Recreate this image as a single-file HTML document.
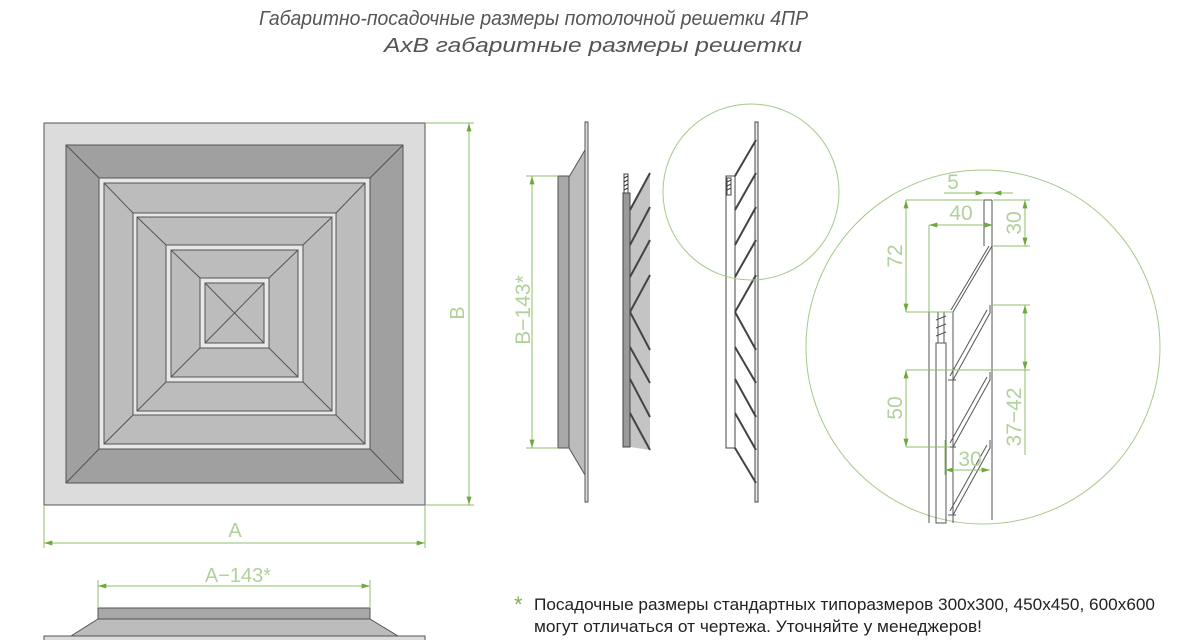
<!DOCTYPE html>
<html><head><meta charset="utf-8"><style>
html,body{margin:0;padding:0;background:#fff;width:1200px;height:640px;overflow:hidden}
svg{display:block}
</style></head><body>
<svg width="1200" height="640" viewBox="0 0 1200 640" xmlns="http://www.w3.org/2000/svg">
<defs>
<marker id="ar" viewBox="0 0 10 6" refX="10" refY="3" markerWidth="10" markerHeight="5" orient="auto-start-reverse" markerUnits="userSpaceOnUse"><path d="M0,0 L10,3 L0,6 z" fill="#6fa83e"/></marker>
</defs>
<g font-family="Liberation Sans, sans-serif" font-style="italic" font-size="20" fill="#555">
<text x="259" y="25" textLength="549" lengthAdjust="spacingAndGlyphs">Габаритно-посадочные размеры потолочной решетки 4ПР</text>
<text x="384" y="52" textLength="418" lengthAdjust="spacingAndGlyphs">AxB габаритные размеры решетки</text>
</g>

<!-- front view -->
<g stroke="#555" stroke-width="1">
<rect x="44" y="123" width="381" height="382" fill="#dcdcdc"/>
<rect x="66" y="145" width="337" height="338" fill="#a0a0a0"/>
<rect x="99" y="178" width="271" height="271" fill="#e8e8e8"/>
<rect x="104" y="183" width="261" height="261" fill="#bcbcbc"/>
<line x1="66" y1="145" x2="99" y2="178"/><line x1="403" y1="145" x2="370" y2="178"/>
<line x1="66" y1="483" x2="99" y2="449"/><line x1="403" y1="483" x2="370" y2="449"/>
<rect x="133" y="213" width="203" height="202" fill="#e8e8e8"/>
<rect x="137" y="217" width="195" height="194" fill="#bcbcbc"/>
<line x1="104" y1="183" x2="133" y2="213"/><line x1="365" y1="183" x2="336" y2="213"/>
<line x1="104" y1="444" x2="133" y2="415"/><line x1="365" y1="444" x2="336" y2="415"/>
<rect x="166" y="245" width="137" height="137" fill="#e8e8e8"/>
<rect x="171" y="250" width="127" height="127" fill="#bcbcbc"/>
<line x1="137" y1="217" x2="166" y2="245"/><line x1="332" y1="217" x2="303" y2="245"/>
<line x1="137" y1="411" x2="166" y2="382"/><line x1="332" y1="411" x2="303" y2="382"/>
<rect x="200" y="278" width="69" height="70" fill="#e8e8e8"/>
<rect x="205" y="283" width="59" height="60" fill="#bcbcbc"/>
<line x1="171" y1="250" x2="200" y2="278"/><line x1="298" y1="250" x2="269" y2="278"/>
<line x1="171" y1="377" x2="200" y2="348"/><line x1="298" y1="377" x2="269" y2="348"/>
<line x1="205" y1="283" x2="264" y2="343"/><line x1="264" y1="283" x2="205" y2="343"/>
</g>
<g stroke="#8fbf6a" stroke-width="1" fill="none">
<line x1="425" y1="123" x2="474" y2="123"/><line x1="425" y1="505" x2="474" y2="505"/>
<line x1="469" y1="123" x2="469" y2="505" marker-start="url(#ar)" marker-end="url(#ar)"/>
<line x1="44" y1="505" x2="44" y2="548"/><line x1="425" y1="505" x2="425" y2="548"/>
<line x1="44" y1="543" x2="425" y2="543" marker-start="url(#ar)" marker-end="url(#ar)"/>
</g>
<g font-family="Liberation Sans, sans-serif" font-size="20" fill="#b2d19a" text-anchor="middle">
<text x="235" y="537">A</text>
<text transform="translate(464,313) rotate(-90)">B</text>
</g>

<!-- bottom view -->
<g stroke="#555" stroke-width="1">
<rect x="98" y="608" width="272" height="11" fill="#a8a8a8"/>
<polygon points="98,619 370,619 398,636 71,636" fill="#bcbcbc"/>
<rect x="44" y="636" width="381" height="5" fill="#dcdcdc"/>
</g>
<g stroke="#8fbf6a" fill="none">
<line x1="98" y1="580" x2="98" y2="608"/><line x1="370" y1="580" x2="370" y2="608"/>
<line x1="98" y1="586" x2="370" y2="586" marker-start="url(#ar)" marker-end="url(#ar)"/>
</g>
<text x="238" y="582" font-family="Liberation Sans, sans-serif" font-size="20" fill="#b2d19a" text-anchor="middle">A−143*</text>

<!-- side view 1 -->
<g stroke="#555" stroke-width="1">
<rect x="585" y="122" width="3" height="380" fill="#ddd"/>
<polygon points="585,150 569,177 569,448 585,475" fill="#bcbcbc"/>
<rect x="558" y="176" width="11" height="272" fill="#a8a8a8"/>
</g>
<g stroke="#8fbf6a" fill="none">
<line x1="526" y1="176" x2="558" y2="176"/><line x1="526" y1="448" x2="558" y2="448"/>
<line x1="532" y1="176" x2="532" y2="448" marker-start="url(#ar)" marker-end="url(#ar)"/>
</g>
<text transform="translate(530,310) rotate(-90)" font-family="Liberation Sans, sans-serif" font-size="21" fill="#b2d19a" text-anchor="middle">B−143*</text>

<!-- side view 2 -->
<g stroke="#444" stroke-width="1">
<polygon points="630,210 650,173 650,450 630,447" fill="#c4c4c4" stroke="none"/>
<rect x="623" y="193" width="7" height="254" fill="#9a9a9a"/>
<rect x="624" y="174" width="4" height="19" fill="#fff"/>
<path d="M624,178 l4,-2 M624,182 l4,-2 M624,186 l4,-2 M624,190 l4,-2" stroke="#333"/>
<g stroke-width="2" fill="none" stroke="#444">
<path d="M630,210 L650,173 M630,245 L650,207 M630,277 L650,240 M630,312 L650,275 M630,312 L650,350 M630,347 L650,383 M630,379 L650,417 M630,413 L650,450"/>
</g>
</g>

<!-- side view 3 -->
<g stroke="#444" stroke-width="1" fill="none">
<rect x="726" y="176" width="9" height="272" fill="#fff"/>
<line x1="735" y1="176" x2="735" y2="448"/>
<rect x="727" y="178" width="4" height="17" fill="#fff"/>
<path d="M727,182 l4,-2 M727,186 l4,-2 M727,190 l4,-2"/>
<rect x="755" y="122" width="3" height="380" fill="#eee"/>
<g stroke-width="2">
<path d="M735,176 L756,140 M735,210 L756,173 M735,245 L756,207 M735,277 L756,240 M735,312 L756,275 M735,312 L756,350 M735,347 L756,383 M735,379 L756,417 M735,413 L756,450 M735,448 L756,483"/>
</g>
</g>
<circle cx="751" cy="192" r="88" fill="none" stroke="#a6c98a" stroke-width="1"/>

<!-- detail circle -->
<circle cx="983" cy="347" r="177" fill="none" stroke="#a6c98a" stroke-width="1"/>
<g stroke="#555" stroke-width="1" fill="none">
<line x1="992" y1="200" x2="992" y2="520"/>
<line x1="984" y1="200" x2="984" y2="246"/><line x1="984" y1="200" x2="992" y2="200"/>
<line x1="929" y1="312" x2="929" y2="523"/>
<line x1="953" y1="312" x2="953" y2="523"/>
<rect x="936" y="343" width="10" height="180"/>
<line x1="929" y1="312" x2="953" y2="312"/>
<path d="M938,312 L938,343 M944,312 L944,343 M936,320 l10,-4 M936,328 l10,-4 M936,336 l10,-4"/>
<path d="M992,246 L953,312 M989,246 L951,310"/>
<path d="M990,305 L990,313 L953,380 M987,310 L950,376"/>
<path d="M990,372 L990,380 L953,447 M987,377 L950,443"/>
<path d="M990,440 L990,448 L953,515 M987,445 L950,511"/>
<path d="M948,380 L956,380 M948,447 L956,447 M948,515 L956,515"/>
</g>
<g stroke="#8fbf6a" stroke-width="1" fill="none">
<line x1="944" y1="193" x2="1013" y2="193"/>
<line x1="972" y1="193" x2="984" y2="193" marker-end="url(#ar)"/>
<line x1="1005" y1="193" x2="993" y2="193" marker-end="url(#ar)"/>
<line x1="929" y1="225" x2="993" y2="225" marker-start="url(#ar)" marker-end="url(#ar)"/>
<line x1="929" y1="225" x2="929" y2="312"/>
<line x1="906" y1="200" x2="984" y2="200"/>
<line x1="906" y1="312" x2="953" y2="312"/>
<line x1="906" y1="200" x2="906" y2="312" marker-start="url(#ar)" marker-end="url(#ar)"/>
<line x1="993" y1="200" x2="1030" y2="200"/><line x1="993" y1="246" x2="1030" y2="246"/>
<line x1="1025" y1="200" x2="1025" y2="246" marker-start="url(#ar)" marker-end="url(#ar)"/>
<line x1="993" y1="305" x2="1030" y2="305"/>
<line x1="906" y1="370" x2="1030" y2="370"/>
<line x1="1025" y1="305" x2="1025" y2="370" marker-start="url(#ar)" marker-end="url(#ar)"/>
<line x1="1025" y1="370" x2="1025" y2="455"/>
<line x1="906" y1="447" x2="950" y2="447"/>
<line x1="906" y1="370" x2="906" y2="447" marker-start="url(#ar)" marker-end="url(#ar)"/>
<line x1="945" y1="440" x2="945" y2="475"/>
<line x1="945" y1="470" x2="990" y2="470" marker-start="url(#ar)" marker-end="url(#ar)"/>
</g>
<g font-family="Liberation Sans, sans-serif" font-size="21" fill="#b2d19a" text-anchor="middle">
<text x="953" y="189">5</text>
<text x="961" y="220">40</text>
<text x="970" y="466">30</text>
<text transform="translate(902,256) rotate(-90)">72</text>
<text transform="translate(902,408) rotate(-90)">50</text>
<text transform="translate(1021,223) rotate(-90)">30</text>
<text transform="translate(1021,417) rotate(-90)">37−42</text>
</g>

<!-- footnote -->
<g font-family="Liberation Sans, sans-serif" font-size="17" fill="#222">
<text x="514" y="612" fill="#7fb24e" font-size="22">*</text>
<text x="534" y="610" textLength="621" lengthAdjust="spacingAndGlyphs">Посадочные размеры стандартных типоразмеров 300x300, 450x450, 600x600</text>
<text x="534" y="632" textLength="448" lengthAdjust="spacingAndGlyphs">могут отличаться от чертежа. Уточняйте у менеджеров!</text>
</g>
</svg>
</body></html>
